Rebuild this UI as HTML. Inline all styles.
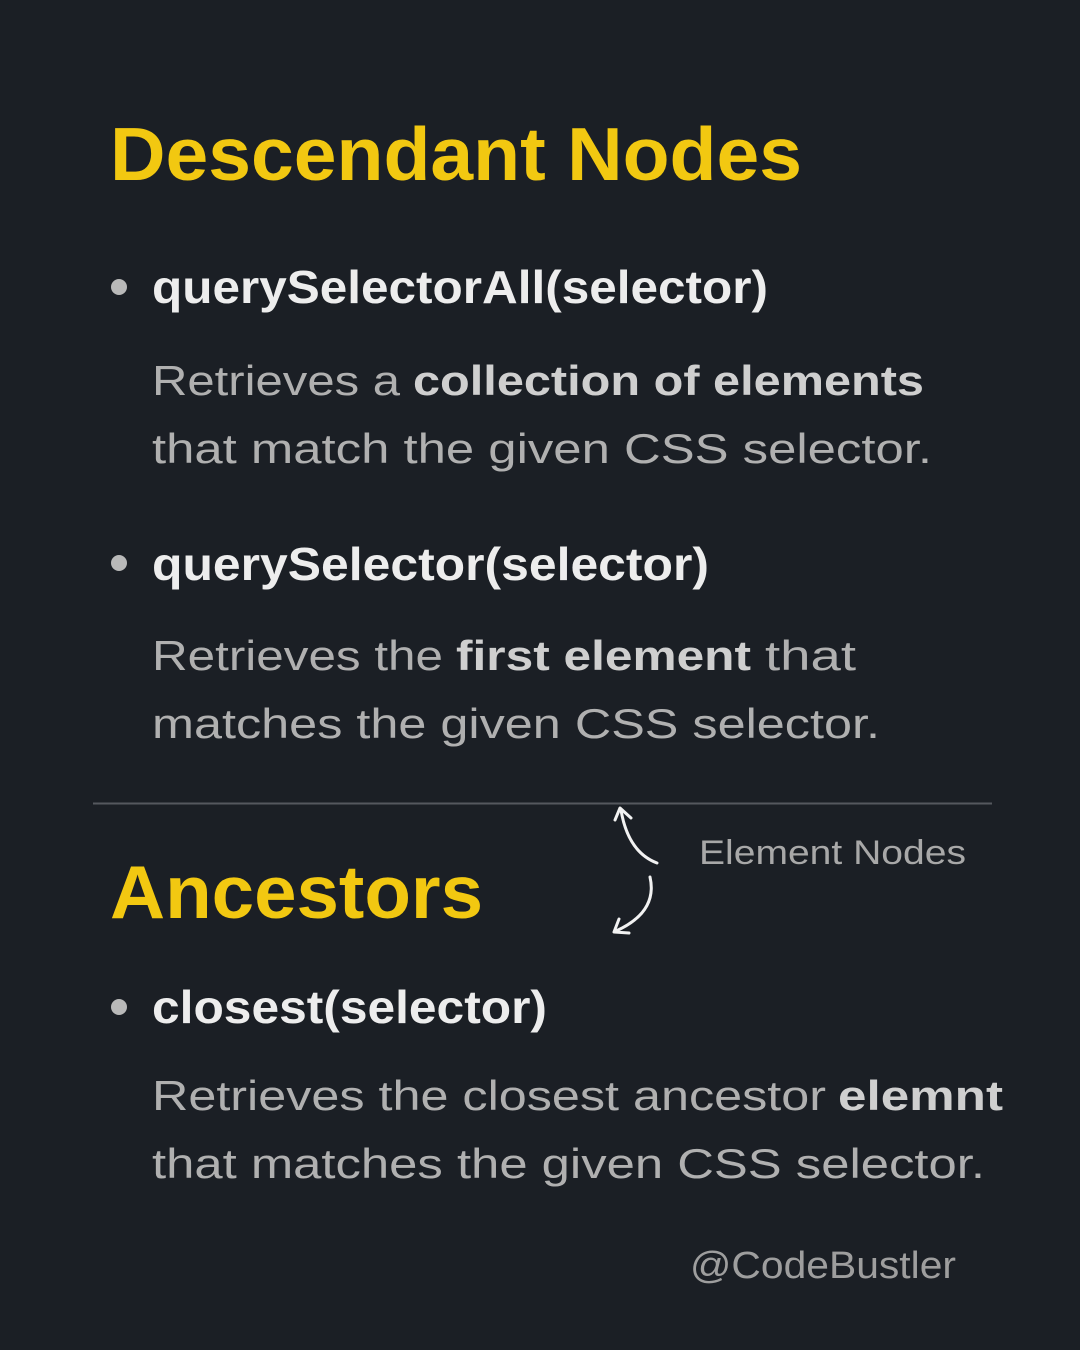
<!DOCTYPE html>
<html><head><meta charset="utf-8"><style>
html,body{margin:0;padding:0;background:#1b1f25;}
svg{display:block}
text{font-family:"Liberation Sans",sans-serif;}
</style></head><body>
<svg width="1080" height="1350" viewBox="0 0 1080 1350" xmlns="http://www.w3.org/2000/svg">
<rect width="1080" height="1350" fill="#1b1f25"/>
<g font-weight="bold" fill="#f2c811" font-size="75">
<text x="110" y="180" textLength="692" lengthAdjust="spacingAndGlyphs">Descendant Nodes</text>
<text x="110" y="918" textLength="373" lengthAdjust="spacingAndGlyphs">Ancestors</text>
</g>
<g fill="#b9b9b9">
<circle cx="119" cy="287" r="8"/><circle cx="119" cy="563" r="8"/><circle cx="119" cy="1007" r="8"/>
</g>
<g font-weight="bold" fill="#ededed" font-size="46">
<text x="152" y="303" textLength="616" lengthAdjust="spacingAndGlyphs">querySelectorAll(selector)</text>
<text x="152" y="580" textLength="557" lengthAdjust="spacingAndGlyphs">querySelector(selector)</text>
<text x="152" y="1023" textLength="395" lengthAdjust="spacingAndGlyphs">closest(selector)</text>
</g>
<g fill="#b0b0b0" font-size="42">
<text x="152" y="395" textLength="248" lengthAdjust="spacingAndGlyphs">Retrieves a</text>
<text x="413" y="395" textLength="511" lengthAdjust="spacingAndGlyphs" font-weight="bold" fill="#cfcfcf">collection of elements</text>
<text x="152" y="463" textLength="780" lengthAdjust="spacingAndGlyphs">that match the given CSS selector.</text>
<text x="152" y="670" textLength="291" lengthAdjust="spacingAndGlyphs">Retrieves the</text>
<text x="456" y="670" textLength="295" lengthAdjust="spacingAndGlyphs" font-weight="bold" fill="#cfcfcf">first element</text>
<text x="765" y="670" textLength="91" lengthAdjust="spacingAndGlyphs">that</text>
<text x="152" y="738" textLength="728" lengthAdjust="spacingAndGlyphs">matches the given CSS selector.</text>
<text x="152" y="1110" textLength="674" lengthAdjust="spacingAndGlyphs">Retrieves the closest ancestor</text>
<text x="838" y="1110" textLength="165" lengthAdjust="spacingAndGlyphs" font-weight="bold" fill="#cfcfcf">elemnt</text>
<text x="152" y="1178" textLength="833" lengthAdjust="spacingAndGlyphs">that matches the given CSS selector.</text>
</g>
<line x1="93" y1="803.5" x2="992" y2="803.5" stroke="#55585e" stroke-width="2"/>
<text x="699" y="864" font-size="34" fill="#a8a8a8" textLength="267" lengthAdjust="spacingAndGlyphs">Element Nodes</text>
<text x="690" y="1278" font-size="38" fill="#9e9e9e" textLength="266" lengthAdjust="spacingAndGlyphs">@CodeBustler</text>
<g stroke="#f2f2f2" stroke-width="3" fill="none" stroke-linecap="round" stroke-linejoin="round">
<path d="M657 863 Q628 852 621 810"/>
<path d="M615 820 L620 808 L631 818"/>
<path d="M650 877 Q658 912 616 931"/>
<path d="M619 919 L614 932 L629 933"/>
</g>
</svg>
</body></html>
